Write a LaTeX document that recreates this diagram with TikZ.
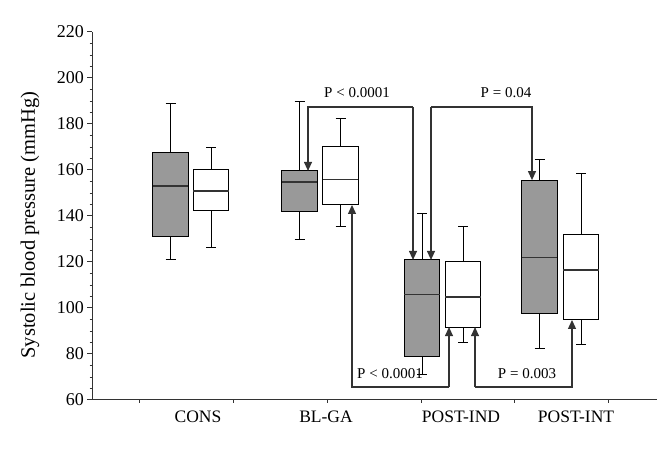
\documentclass[tikz,border=0pt]{standalone}
\usepackage{fontspec}
\setmainfont{Liberation Serif}
\usetikzlibrary{arrows.meta}

\definecolor{boxgray}{HTML}{999999}
\definecolor{linegray}{HTML}{333333}

\tikzset{
  axisline/.style={line width=1pt, draw=linegray},
  whisk/.style={line width=0.9pt},
  pbox/.style={line width=1pt, draw=black},
  bracket/.style={line width=1.1pt, draw=linegray, -{Triangle[width=8pt,length=9pt]}},
  ticklab/.style={font=\fontsize{18}{20}\selectfont, anchor=east, inner sep=0pt},
  grouplab/.style={font=\fontsize{17.5}{20}\selectfont, anchor=base, inner sep=0pt},
  plab/.style={font=\fontsize{15}{17}\selectfont, inner sep=0pt},
}

\begin{document}
\begin{tikzpicture}[x=1pt, y=2.3pt]
    \useasboundingbox (0,35.65) rectangle (666,233.91);

    % axes
    \draw[axisline] (92,60) -- (92,220);
    \draw[axisline] (92,60) -- (657,60);
    \foreach \v in {60,80,...,220} {
        \draw[axisline] (87,\v) -- (92,\v);
        \node[ticklab] (t\v) at (84,\v) {\v};
    }
    \foreach \v in {65,70,75,85,90,95,105,110,115,125,130,135,145,150,155,165,170,175,185,190,195,205,210,215}
        \draw[line width=0.8pt, draw=linegray] (89.5,\v) -- (92,\v);
    \foreach \x in {139,233,327,421,514,608}
        \draw[line width=0.8pt, draw=linegray] (\x,60) -- (\x,58.6);

    \node[rotate=90, font=\fontsize{20.5}{22}\selectfont] (ylab) at (30,136.1) {Systolic blood pressure (mmHg)};

    \node[grouplab] (cons) at (198,50.4) {CONS};
    \node[grouplab] (blga) at (326,50.4) {BL-GA};
    \node[grouplab] (pind) at (461,50.4) {POST-IND};
    \node[grouplab] (pint) at (576,50.4) {POST-INT};

    % boxes: centre / low / q1 / median / q3 / high / fill
    \foreach \cx/\lo/\qa/\md/\qb/\hi/\col in {
        170.5/120.9/130.9/153/167.8/189/boxgray,
        211/126.5/142.6/150.9/160/170/white,
        299.5/130/142/154.8/159.6/189.6/boxgray,
        340.5/135.6/144.8/156/170/182.6/white,
        422/71/79/106/120.9/141.3/boxgray,
        463/85/91.7/104.8/120/135.6/white,
        539.5/82.6/97.4/122/155.6/164.8/boxgray,
        581/84.3/94.8/116.5/132/158.7/white} {
        \draw[whisk] (\cx,\lo) -- (\cx,\qa);
        \draw[whisk] (\cx,\qb) -- (\cx,\hi);
        \draw[whisk] (\cx-5,\lo) -- (\cx+5,\lo);
        \draw[whisk] (\cx-5,\hi) -- (\cx+5,\hi);
        \draw[pbox, fill=\col] (\cx-17.8,\qa) rectangle (\cx+17.8,\qb);
        \draw[line width=1.2pt, draw=linegray] (\cx-17.8,\md) -- (\cx+17.8,\md);
    }

    % end points on the boxes
    \coordinate (blgaG) at (308,159.6);
    \coordinate (pindGa) at (413,120.9);
    \coordinate (pindGb) at (431,120.9);
    \coordinate (pintG) at (532,155.6);
    \coordinate (blgaW) at (352,144.8);
    \coordinate (pindWa) at (449,91.7);
    \coordinate (pindWb) at (475,91.7);
    \coordinate (pintW) at (572,94.8);

    % corners of the brackets
    \coordinate (c1a) at (308,187.4);
    \coordinate (c1b) at (413,187.4);
    \coordinate (c2a) at (431,187.4);
    \coordinate (c2b) at (532,187.4);
    \coordinate (c3a) at (352,65.65);
    \coordinate (c3b) at (449,65.65);
    \coordinate (c4a) at (475,65.65);
    \coordinate (c4b) at (572,65.65);

    \draw[bracket] (c1b) -- (pindGa);
    \draw[bracket] (c1b) -- (c1a) -- (blgaG);
    \draw[bracket] (c2a) -- (pindGb);
    \draw[bracket] (c2a) -- (c2b) -- (pintG);
    \draw[bracket] (c3b) -- (pindWa);
    \draw[bracket] (c3b) -- (c3a) -- (blgaW);
    \draw[bracket] (c4a) -- (pindWb);
    \draw[bracket] (c4a) -- (c4b) -- (pintW);

    \node[plab] (p1) at (357,193.5) {P < 0.0001};
    \node[plab] (p2) at (506,193.5) {P = 0.04};
    \node[plab] (p3) at (390,71.3) {P < 0.0001};
    \node[plab] (p4) at (527,71.3) {P = 0.003};
\end{tikzpicture}
\end{document}
